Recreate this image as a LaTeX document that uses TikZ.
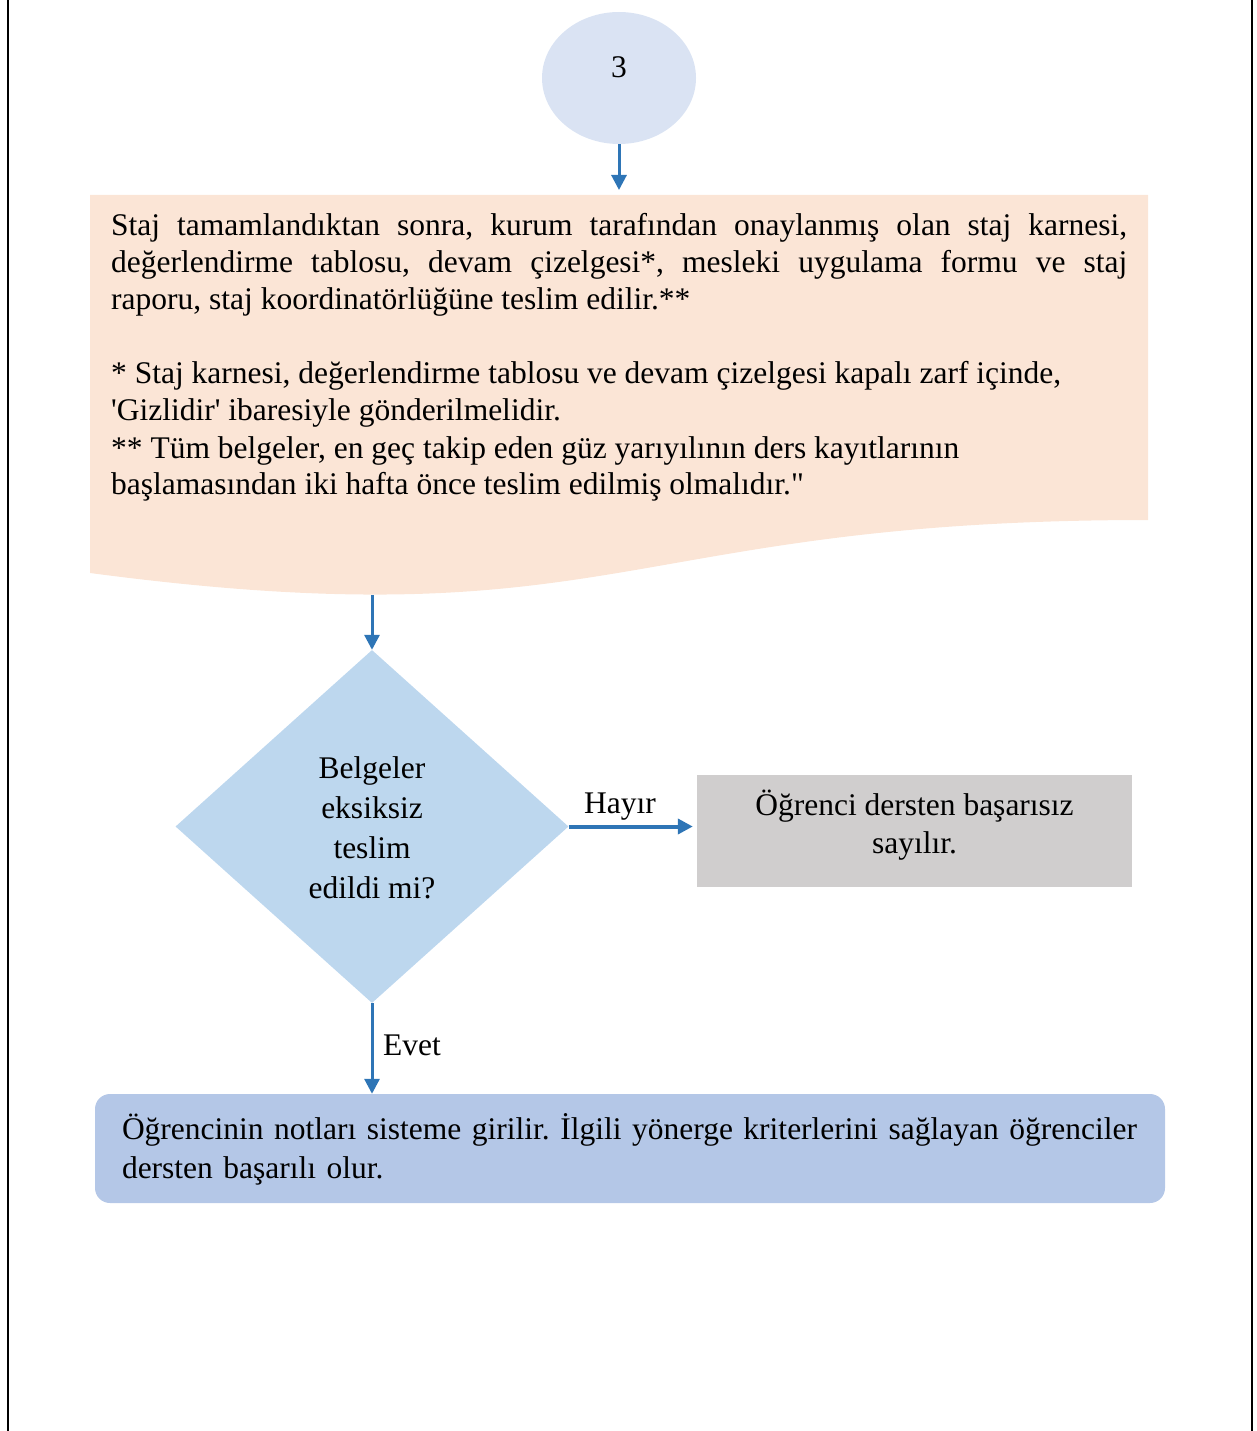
\documentclass[tikz,border=0pt]{standalone}
\usepackage{fontspec}
\setmainfont{Liberation Serif}[Ligatures=TeXOff]
\usetikzlibrary{shapes.geometric,arrows.meta}
\frenchspacing
\definecolor{ellfill}{HTML}{DAE3F3}
\definecolor{docfill}{HTML}{FBE5D6}
\definecolor{decfill}{HTML}{BDD7EE}
\definecolor{failfill}{HTML}{D0CECE}
\definecolor{endfill}{HTML}{B4C7E7}
\definecolor{arrowblue}{HTML}{2E75B6}
\begin{document}
\begin{tikzpicture}[x=1pt,y=-1pt,
  font=\fontsize{31.5}{37}\selectfont,
  startell/.style={ellipse, fill=ellfill, minimum width=154pt, minimum height=132pt, inner sep=0pt},
  doctext/.style={inner sep=0pt},
  decision/.style={diamond, fill=decfill, minimum width=393pt, minimum height=353pt, inner sep=0pt, align=center,
    font=\fontsize{31.5}{40}\selectfont, text height=143pt, text depth=0pt},
  failbox/.style={rectangle, fill=failfill, minimum width=435pt, minimum height=112pt, inner sep=0pt, align=center,
    font=\fontsize{31.5}{38}\selectfont, text height=50pt, text depth=6pt},
  endbox/.style={rectangle, rounded corners=15pt, fill=endfill, minimum width=1070pt, minimum height=109pt,
    inner xsep=27pt, inner ysep=0pt, text width=1016pt, align=left,
    font=\fontsize{31.5}{39}\selectfont, text height=27pt, text depth=46pt},
  flow/.style={draw=arrowblue, line width=3pt, -{Triangle[length=15pt,width=15pt]}},
  lbl/.style={inner sep=0pt}
]
\useasboundingbox (0,0) rectangle (1257,1431);
% page frame lines
\draw[line width=2pt] (8,0) -- (8,1431);
\draw[line width=2pt] (1252,0) -- (1252,1431);

% start connector
\node[startell] (start) at (619,78) {\smash{3}};

% document shape
\fill[docfill] (90,195) -- (1148,195) -- (1148,520) .. controls (619,520) and (619,643) .. (90,573) -- cycle;
\node[inner sep=0pt, minimum width=1058pt, minimum height=325pt, anchor=north west] (docbox) at (90,195) {};
\node[doctext, anchor=base west] (doc) at (111,236) {\vtop{%
\hbox to 1016pt{Staj tamamlandıktan sonra, kurum tarafından onaylanmış olan staj karnesi,}
\hbox to 1016pt{değerlendirme tablosu, devam çizelgesi*, mesleki uygulama formu ve staj}
\hbox{raporu, staj koordinatörlüğüne teslim edilir.**}
\hbox{}
\hbox{* Staj karnesi, değerlendirme tablosu ve devam çizelgesi kapalı zarf içinde,}
\hbox{'Gizlidir' ibaresiyle gönderilmelidir.}
\hbox{** Tüm belgeler, en geç takip eden güz yarıyılının ders kayıtlarının}
\hbox{başlamasından iki hafta önce teslim edilmiş olmalıdır."}}};
\coordinate (docout) at (372,595);

% decision
\node[decision] (dec) at (372,826.5) {Belgeler\\eksiksiz\\teslim\\edildi mi?};

% fail box
\node[failbox] (fail) at (914.5,831) {Öğrenci dersten başarısız\\sayılır.};

% end box
\node[endbox] (end) at (630,1148.5) {\mbox{Öğrencinin notları sisteme girilir. İlgili yönerge kriterlerini sağlayan öğrenciler}\\dersten başarılı olur.};

% connectors
\draw[flow, shorten >=5pt] (start.south) -- (start.south |- docbox.north);
\draw[flow] (docout) -- (dec.north);
\draw[flow, line width=4pt, shorten >=4pt] (dec.east) -- (dec.east -| fail.west);
\draw[flow] (dec.south) -- (dec.south |- end.north);

% labels
\node[lbl, anchor=base] (hayir) at (620,813) {Hayır};
\node[lbl, anchor=base west] (evet) at (383,1055) {Evet};
\end{tikzpicture}
\end{document}
